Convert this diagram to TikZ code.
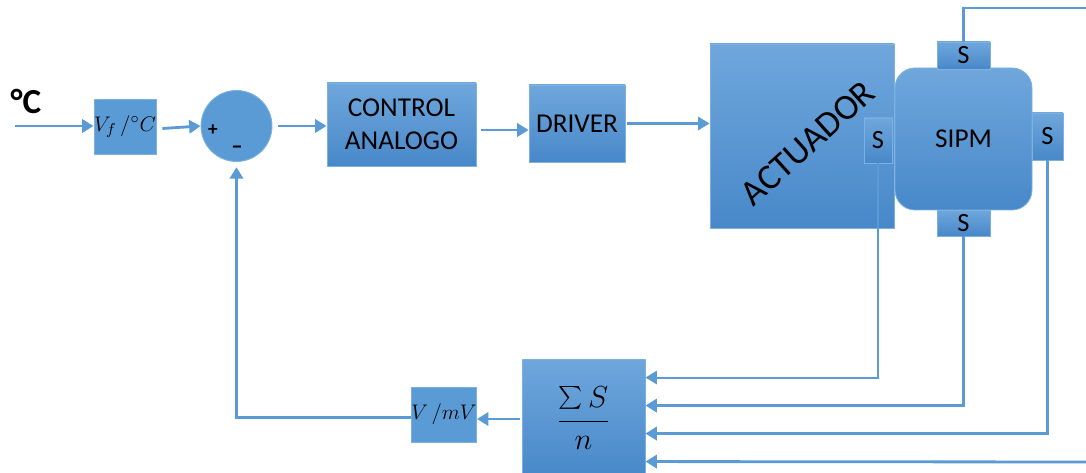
\documentclass[tikz,border=0pt]{standalone}
\usepackage{fontspec}
\setmainfont{Carlito}
\usetikzlibrary{arrows.meta,calc,shapes.geometric}
\definecolor{lineblue}{HTML}{5B9BD5}
\definecolor{boxtop}{HTML}{6FA7DC}
\definecolor{boxbot}{HTML}{4888C9}
\definecolor{boxedge}{HTML}{7DB1E1}
\definecolor{flatblue}{HTML}{5B9BD5}
\tikzset{
  gbox/.style={draw=boxedge, line width=0.5pt, top color=boxtop, bottom color=boxbot, inner sep=0pt, align=center, font=\fontsize{15.5}{18.5}\selectfont},
  fbox/.style={draw=boxedge, line width=0.5pt, fill=flatblue, inner sep=0pt, align=center},
  sbox/.style={gbox, font=\fontsize{15}{17}\selectfont},
  conn/.style={draw=lineblue, line width=1.6pt},
  thin conn/.style={draw=lineblue, line width=1.2pt},
  arr/.style={conn, -{Triangle[length=6.5pt,width=7.5pt]}},
  thin arr/.style={thin conn, -{Triangle[length=6.5pt,width=7.5pt]}},
}
\begin{document}
\begin{tikzpicture}[x=0.02cm,y=-0.02cm]
\useasboundingbox (0,0) rectangle (1086,473);
\clip (0,0) rectangle (1086,473);
\fill[white] (0,0) rectangle (1086,473);

% input label
\node (deg) at (26,101) {\fontsize{20}{22}\selectfont\bfseries °C};
\coordinate (in0) at (15,126);

% forward path
\node[fbox, minimum width=62*0.02cm, minimum height=55*0.02cm] (vf) at (125,126.5) {\fontsize{12.5}{14}\selectfont$V_f\,/^{\circ}C$};
\node[circle, fill=flatblue, draw=boxedge, line width=0.5pt, minimum size=71*0.02cm, inner sep=0pt] (sum) at (236.5,126) {};
\node[font=\fontsize{11}{13}\selectfont\bfseries] (plus) at (213,130) {+};
\node[font=\fontsize{13}{13}\selectfont\bfseries] (minus) at (237,150) {–};
\node[gbox, minimum width=149*0.02cm, minimum height=83*0.02cm] (ctrl) at (401.5,124.5) {CONTROL\\ANALOGO};
\node[gbox, minimum width=96*0.02cm, minimum height=77*0.02cm] (drv) at (577,123.5) {DRIVER};
\node[gbox, minimum width=184*0.02cm, minimum height=184*0.02cm] (act) at (802,136) {};
\node[rotate=42, font=\fontsize{20.5}{24}\selectfont] (actlbl) at (808,143) {ACTUADOR};
\node[sbox, minimum width=28*0.02cm, minimum height=45*0.02cm] (sa) at (878,140.5) {S};
\node[gbox, rounded corners=0.4cm, minimum width=137*0.02cm, minimum height=142*0.02cm] (sipm) at (963.5,139) {SIPM};
\node[sbox, minimum width=53*0.02cm, minimum height=27*0.02cm] (st) at (963.5,55.5) {S};
\node[sbox, minimum width=53*0.02cm, minimum height=26*0.02cm] (sb) at (963.5,223) {S};
\node[sbox, minimum width=31*0.02cm, minimum height=47*0.02cm] (sr) at (1047.5,136.5) {S};

% feedback path
\node[gbox, minimum width=123*0.02cm, minimum height=118*0.02cm] (avg) at (583.5,418) {\fontsize{19}{22}\selectfont$\displaystyle\frac{\mathop{\scalebox{1.3}{$\sum$}}S}{n}$};
\node[fbox, minimum width=62*0.02cm, minimum height=55*0.02cm] (vmv) at (444,414.5) {\fontsize{12.5}{14}\selectfont$V\,/mV$};

% forward connectors
\draw[arr] (in0) -- (in0 -| vf.west);
\coordinate (c0) at ($(vf.east)+(6,2)$);
\draw[arr] (c0) -- (sum.west);
\coordinate (c1) at ($(sum.east)+(6,0)$);
\draw[arr] (c1) -- (c1 -| ctrl.west);
\coordinate (c2) at ($(ctrl.east)+(5,5.5)$);
\draw[arr] (c2) -- (c2 -| drv.west);
\coordinate (c3) at ($(drv.east)+(2,0)$);
\draw[thin arr] (c3) -- (c3 -| act.west);

% sensor connectors
\coordinate (tr) at (1095,8);
\draw[thin conn] (st.north) |- (tr);
\coordinate (in1) at ($(avg.north east)+(0,19)$);
\coordinate (in2) at ($(avg.north east)+(0,47)$);
\coordinate (in3) at ($(avg.north east)+(0,75)$);
\coordinate (in4) at ($(avg.north east)+(0,103)$);
\coordinate (rr) at (1095,462);
\draw[thin arr] (sa.south) |- (in1);
\draw[arr] (sb.south) |- (in2);
\draw[arr] (sr.south) |- (in3);
\draw[arr] (rr) -- (in4);

% feedback connectors
\coordinate (c4) at ($(avg.west)+(-2,1)$);
\draw[arr] (c4) -- (c4 -| vmv.east);
\coordinate (c5) at ($(vmv.west)+(0,3)$);
\draw[arr, shorten >=3pt] (c5) -| (sum.south);
\end{tikzpicture}
\end{document}
